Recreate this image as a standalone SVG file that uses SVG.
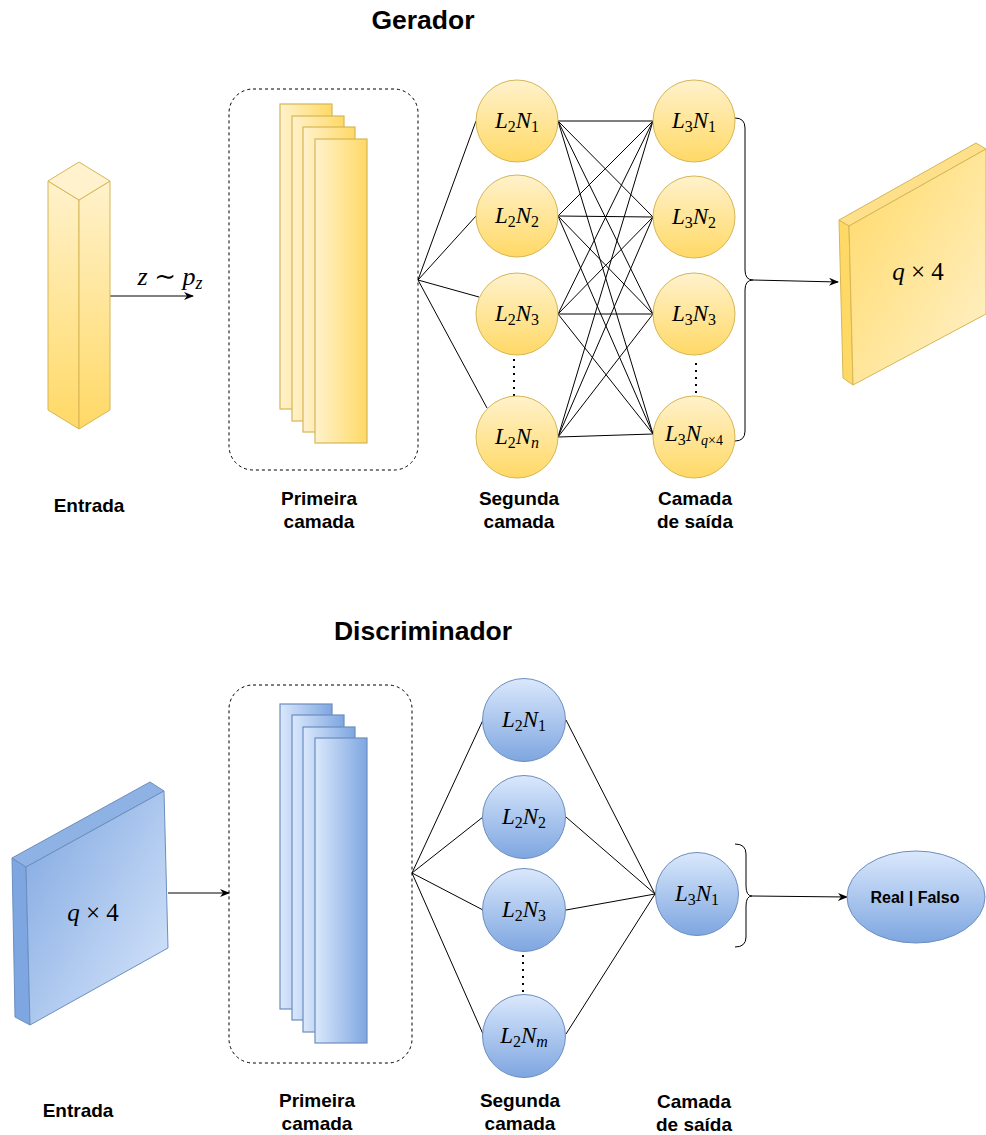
<svg xmlns="http://www.w3.org/2000/svg" width="986" height="1135" viewBox="0 0 986 1135">
<defs>
<linearGradient id="yv" x1="0" y1="0" x2="0" y2="1"><stop offset="0" stop-color="#fff2cc"/><stop offset="1" stop-color="#ffd966"/></linearGradient>
<linearGradient id="yh" x1="0" y1="0" x2="1" y2="0"><stop offset="0" stop-color="#fff2cc"/><stop offset="1" stop-color="#ffd966"/></linearGradient>
<linearGradient id="yd" x1="0" y1="0" x2="1" y2="1"><stop offset="0" stop-color="#ffd966"/><stop offset="1" stop-color="#fff2cc"/></linearGradient>
<linearGradient id="bv" x1="0" y1="0" x2="0" y2="1"><stop offset="0" stop-color="#dae8fc"/><stop offset="1" stop-color="#7ea6e0"/></linearGradient>
<linearGradient id="bh" x1="0" y1="0" x2="1" y2="0"><stop offset="0" stop-color="#dae8fc"/><stop offset="1" stop-color="#7ea6e0"/></linearGradient>
<linearGradient id="bd" x1="0" y1="0" x2="1" y2="1"><stop offset="0" stop-color="#7ea6e0"/><stop offset="1" stop-color="#dae8fc"/></linearGradient>
<marker id="arr" viewBox="0 0 10 10" refX="9" refY="5" markerWidth="10" markerHeight="10" markerUnits="userSpaceOnUse" orient="auto"><path d="M0,1 L10,5 L0,9 L3,5 Z" fill="#000"/></marker>
</defs>
<style>
.title{font-family:"Liberation Sans",Arial,sans-serif;font-weight:bold;font-size:26.5px;text-anchor:middle;fill:#000}
.lbl{font-family:"Liberation Sans",Arial,sans-serif;font-weight:bold;font-size:19px;text-anchor:middle;fill:#000}
.m{font-family:"Liberation Serif","DejaVu Serif",serif;font-size:23px;text-anchor:middle;fill:#000}
.i{font-style:italic}
.s{font-size:16px}
.gy{fill:url(#yv);stroke:#d6b656;stroke-width:1}
.gb{fill:url(#bv);stroke:#6c8ebf;stroke-width:1}
.ly{fill:url(#yh);stroke:#d6b656;stroke-width:1.2}
.lb{fill:url(#bh);stroke:#6c8ebf;stroke-width:1.2}
.dash{fill:none;stroke:#000;stroke-width:1;stroke-dasharray:3 3}
.ln{stroke:#000;stroke-width:1;fill:none}
.dots{stroke:#000;stroke-width:2;stroke-dasharray:2 5;fill:none}
.rf{font-family:"Liberation Sans",Arial,sans-serif;font-weight:bold;font-size:16px;text-anchor:middle;fill:#000}
</style>
<rect width="986" height="1135" fill="#fff"/>

<text class="title" x="423" y="29">Gerador</text>
<text class="title" x="423" y="640">Discriminador</text>

<g id="connectors">
<line class="ln" x1="110" y1="296" x2="193" y2="296" marker-end="url(#arr)"/>
<line class="ln" x1="418" y1="280" x2="476" y2="121"/>
<line class="ln" x1="418" y1="280" x2="476" y2="216"/>
<line class="ln" x1="418" y1="280" x2="479" y2="297"/>
<line class="ln" x1="418" y1="280" x2="487" y2="408"/>
<g>
<line class="ln" x1="558" y1="121" x2="653" y2="121"/>
<line class="ln" x1="558" y1="121" x2="653" y2="217"/>
<line class="ln" x1="558" y1="121" x2="653" y2="314"/>
<line class="ln" x1="558" y1="121" x2="653" y2="434"/>
<line class="ln" x1="558" y1="216" x2="653" y2="121"/>
<line class="ln" x1="558" y1="216" x2="653" y2="217"/>
<line class="ln" x1="558" y1="216" x2="653" y2="314"/>
<line class="ln" x1="558" y1="216" x2="653" y2="434"/>
<line class="ln" x1="558" y1="314" x2="653" y2="121"/>
<line class="ln" x1="558" y1="314" x2="653" y2="217"/>
<line class="ln" x1="558" y1="314" x2="653" y2="314"/>
<line class="ln" x1="558" y1="314" x2="653" y2="434"/>
<line class="ln" x1="558" y1="437" x2="653" y2="121"/>
<line class="ln" x1="558" y1="437" x2="653" y2="217"/>
<line class="ln" x1="558" y1="437" x2="653" y2="314"/>
<line class="ln" x1="558" y1="437" x2="653" y2="434"/>
</g>
<line class="dots" x1="514" y1="359" x2="514" y2="396"/>
<line class="dots" x1="696" y1="363" x2="696" y2="393"/>
<path class="ln" d="M735,118 Q745,118 745,128 L745,270 Q745,280 753,280 Q745,280 745,290 L745,431 Q745,441 735,441"/>
<line class="ln" x1="753" y1="280" x2="838" y2="282" marker-end="url(#arr)"/>
<line class="ln" x1="168" y1="893" x2="229" y2="893" marker-end="url(#arr)"/>
<line class="ln" x1="412" y1="873" x2="483" y2="720"/>
<line class="ln" x1="412" y1="873" x2="483" y2="817"/>
<line class="ln" x1="412" y1="873" x2="483" y2="910"/>
<line class="ln" x1="412" y1="873" x2="483" y2="1034"/>
<line class="ln" x1="566" y1="720" x2="655" y2="894"/>
<line class="ln" x1="566" y1="817" x2="655" y2="894"/>
<line class="ln" x1="566" y1="910" x2="655" y2="894"/>
<line class="ln" x1="566" y1="1034" x2="655" y2="894"/>
<line class="dots" x1="523" y1="955" x2="523" y2="992"/>
<path class="ln" d="M735,844 Q746,844 746,854 L746,886 Q746,896 752,896 Q746,896 746,906 L746,937 Q746,947 735,947"/>
<line class="ln" x1="752" y1="896" x2="847" y2="897" marker-end="url(#arr)"/>
</g>

<g id="gen-input">
<polygon points="48,181 79,200 79,429 48,410" fill="url(#yv)" stroke="#d6b656"/>
<polygon points="79,200 110,181 110,410 79,429" fill="url(#yv)" stroke="#d6b656"/>
<polygon points="48,181 79,162 110,181 79,200" fill="#fff2cc" stroke="#d6b656"/>
</g>
<text class="m" x="170" y="285" style="font-size:26px"><tspan class="i">z</tspan> ∼ <tspan class="i">p</tspan><tspan class="i" style="font-size:18px" dy="4">z</tspan></text>

<g id="gen-layer1">
<rect class="dash" x="229" y="89" width="189" height="381" rx="24"/>
<rect class="ly" x="280" y="104" width="52" height="305"/>
<rect class="ly" x="292" y="116" width="52" height="305"/>
<rect class="ly" x="303" y="127" width="52" height="305"/>
<rect class="ly" x="315" y="139" width="52" height="304"/>
</g>

<g id="gen-l2n1"><circle class="gy" cx="517" cy="121" r="41"/><text class="m" x="517" y="128"><tspan class="i">L</tspan><tspan class="s" dy="4">2</tspan><tspan class="i" dy="-4">N</tspan><tspan class="s" dy="4">1</tspan></text></g>
<g id="gen-l2n2"><circle class="gy" cx="517" cy="216" r="41"/><text class="m" x="517" y="223"><tspan class="i">L</tspan><tspan class="s" dy="4">2</tspan><tspan class="i" dy="-4">N</tspan><tspan class="s" dy="4">2</tspan></text></g>
<g id="gen-l2n3"><circle class="gy" cx="517" cy="314" r="41"/><text class="m" x="517" y="321"><tspan class="i">L</tspan><tspan class="s" dy="4">2</tspan><tspan class="i" dy="-4">N</tspan><tspan class="s" dy="4">3</tspan></text></g>
<g id="gen-l2nn"><circle class="gy" cx="517" cy="437" r="41"/><text class="m" x="517" y="444"><tspan class="i">L</tspan><tspan class="s" dy="4">2</tspan><tspan class="i" dy="-4">N</tspan><tspan class="s i" dy="4">n</tspan></text></g>

<g id="gen-l3n1"><circle class="gy" cx="694" cy="121" r="41"/><text class="m" x="694" y="128"><tspan class="i">L</tspan><tspan class="s" dy="4">3</tspan><tspan class="i" dy="-4">N</tspan><tspan class="s" dy="4">1</tspan></text></g>
<g id="gen-l3n2"><circle class="gy" cx="694" cy="217" r="41"/><text class="m" x="694" y="224"><tspan class="i">L</tspan><tspan class="s" dy="4">3</tspan><tspan class="i" dy="-4">N</tspan><tspan class="s" dy="4">2</tspan></text></g>
<g id="gen-l3n3"><circle class="gy" cx="694" cy="314" r="41"/><text class="m" x="694" y="321"><tspan class="i">L</tspan><tspan class="s" dy="4">3</tspan><tspan class="i" dy="-4">N</tspan><tspan class="s" dy="4">3</tspan></text></g>
<g id="gen-l3nq"><circle class="gy" cx="694" cy="437" r="41"/><text class="m" x="694" y="441"><tspan class="i">L</tspan><tspan class="s" dy="4">3</tspan><tspan class="i" dy="-4">N</tspan><tspan class="i" style="font-size:14px" dy="4">q</tspan><tspan style="font-size:14px">×4</tspan></text></g>

<g id="gen-output">
<polygon points="839,220 849,226 853,385 843,378" fill="#ffd966" stroke="#d6b656"/>
<polygon points="839,220 976,143 986,149 849,226" fill="#ffe08a" stroke="#d6b656"/>
<polygon points="849,226 986,149 986,314 853,385" fill="url(#yd)" stroke="#d6b656"/>
<text class="m" x="918" y="280" style="font-size:25px"><tspan class="i">q</tspan> × 4</text>
</g>

<text class="lbl" x="89" y="512">Entrada</text>
<text class="lbl" x="319" y="505">Primeira</text>
<text class="lbl" x="319" y="528">camada</text>
<text class="lbl" x="519" y="505">Segunda</text>
<text class="lbl" x="519" y="528">camada</text>
<text class="lbl" x="695" y="505">Camada</text>
<text class="lbl" x="695" y="528">de saída</text>

<g id="disc-input">
<polygon points="12,858 26,867 30,1025 15,1017" fill="#7ea6e0" stroke="#6c8ebf"/>
<polygon points="12,858 150,782 164,791 26,867" fill="#8fb2e4" stroke="#6c8ebf"/>
<polygon points="26,867 164,791 168,948 30,1025" fill="url(#bd)" stroke="#6c8ebf"/>
<text class="m" x="93" y="921" style="font-size:25px"><tspan class="i">q</tspan> × 4</text>
</g>

<g id="disc-layer1">
<rect class="dash" x="229" y="685" width="183" height="378" rx="24"/>
<rect class="lb" x="280" y="704" width="52" height="305"/>
<rect class="lb" x="292" y="715" width="52" height="305"/>
<rect class="lb" x="303" y="727" width="52" height="305"/>
<rect class="lb" x="315" y="738" width="52" height="305"/>
</g>

<g id="disc-l2n1"><circle class="gb" cx="524" cy="720" r="41.5"/><text class="m" x="524" y="727"><tspan class="i">L</tspan><tspan class="s" dy="4">2</tspan><tspan class="i" dy="-4">N</tspan><tspan class="s" dy="4">1</tspan></text></g>
<g id="disc-l2n2"><circle class="gb" cx="524" cy="817" r="41.5"/><text class="m" x="524" y="824"><tspan class="i">L</tspan><tspan class="s" dy="4">2</tspan><tspan class="i" dy="-4">N</tspan><tspan class="s" dy="4">2</tspan></text></g>
<g id="disc-l2n3"><circle class="gb" cx="524" cy="910" r="41.5"/><text class="m" x="524" y="917"><tspan class="i">L</tspan><tspan class="s" dy="4">2</tspan><tspan class="i" dy="-4">N</tspan><tspan class="s" dy="4">3</tspan></text></g>
<g id="disc-l2nm"><circle class="gb" cx="524" cy="1036" r="41.5"/><text class="m" x="524" y="1043"><tspan class="i">L</tspan><tspan class="s" dy="4">2</tspan><tspan class="i" dy="-4">N</tspan><tspan class="s i" dy="4">m</tspan></text></g>

<g id="disc-l3n1"><circle class="gb" cx="697" cy="894" r="41.5"/><text class="m" x="697" y="901"><tspan class="i">L</tspan><tspan class="s" dy="4">3</tspan><tspan class="i" dy="-4">N</tspan><tspan class="s" dy="4">1</tspan></text></g>

<g id="disc-output"><ellipse class="gb" cx="916" cy="897" rx="69" ry="46"/><text class="rf" x="915" y="903">Real | Falso</text></g>

<text class="lbl" x="78" y="1117">Entrada</text>
<text class="lbl" x="317" y="1107">Primeira</text>
<text class="lbl" x="317" y="1130">camada</text>
<text class="lbl" x="520" y="1107">Segunda</text>
<text class="lbl" x="520" y="1130">camada</text>
<text class="lbl" x="694" y="1108">Camada</text>
<text class="lbl" x="694" y="1131">de saída</text>
</svg>
